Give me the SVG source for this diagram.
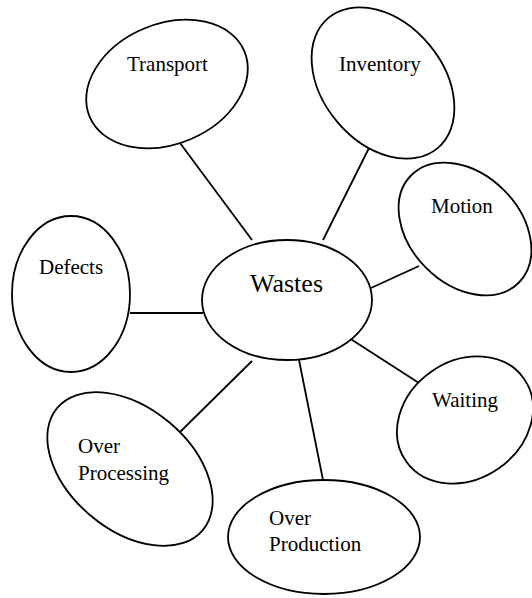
<svg xmlns="http://www.w3.org/2000/svg" width="532" height="598" viewBox="0 0 532 598">
<style>
.n{fill:#fff;stroke:#000;stroke-width:1.8}
.c line{stroke:#000;stroke-width:1.8}
.t{font-family:'Liberation Serif','Times New Roman','DejaVu Serif',serif;font-size:21px;fill:#000}
</style>
<rect width="532" height="598" fill="#fff"/>
<g class="c" id="connectors">
<line x1="180" y1="143" x2="252" y2="240"/>
<line x1="371" y1="144" x2="323" y2="240"/>
<line x1="419" y1="266" x2="371" y2="288"/>
<line x1="130" y1="313" x2="203" y2="313"/>
<line x1="180" y1="432" x2="252" y2="361"/>
<line x1="299" y1="360" x2="323" y2="480"/>
<line x1="346" y1="336" x2="419" y2="383"/>
</g>
<g id="transport"><ellipse class="n" cx="167" cy="84" rx="84" ry="60" transform="rotate(-23 167 84)"/><text class="t" x="127" y="71">Transport</text></g>
<g id="inventory"><ellipse class="n" cx="383" cy="83" rx="85" ry="60" transform="rotate(50 383 83)"/><text class="t" x="339" y="71">Inventory</text></g>
<g id="motion"><ellipse class="n" cx="465" cy="229" rx="76" ry="55" transform="rotate(45 465 229)"/><text class="t" x="431" y="213">Motion</text></g>
<g id="defects"><ellipse class="n" cx="71" cy="294" rx="59" ry="78"/><text class="t" x="39" y="274">Defects</text></g>
<g id="wastes"><ellipse class="n" cx="287" cy="300" rx="85" ry="60"/><text class="t" x="250" y="292" style="font-size:26px">Wastes</text></g>
<g id="waiting"><ellipse class="n" cx="465" cy="420" rx="72" ry="59" transform="rotate(-35 465 420)"/><text class="t" x="432" y="407">Waiting</text></g>
<g id="over-processing"><ellipse class="n" cx="130" cy="469" rx="95" ry="61" transform="rotate(40 130 469)"/><text class="t" x="78" y="453">Over</text><text class="t" x="78" y="480">Processing</text></g>
<g id="over-production"><ellipse class="n" cx="324" cy="537" rx="96" ry="57"/><text class="t" x="269" y="525">Over</text><text class="t" x="269" y="551">Production</text></g>
</svg>
